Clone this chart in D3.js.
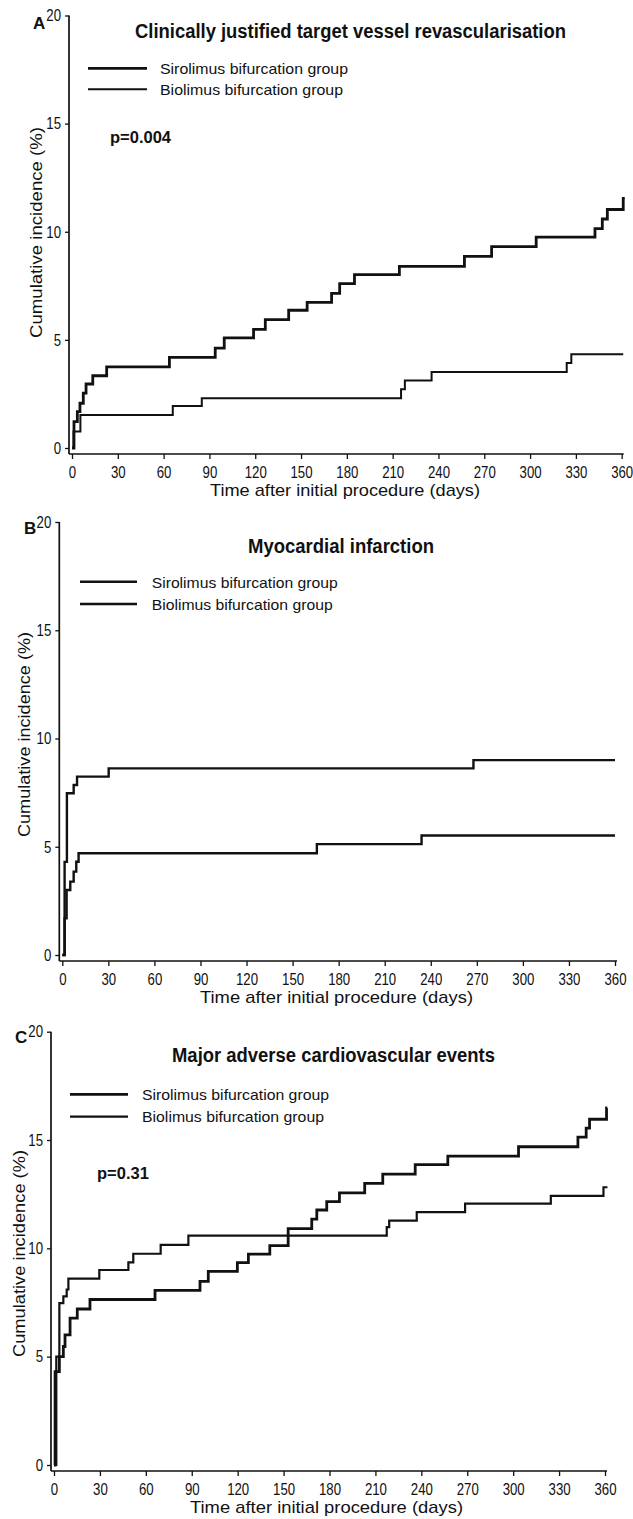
<!DOCTYPE html>
<html><head><meta charset="utf-8">
<script src="https://cdn.jsdelivr.net/npm/d3@7"></script>
<style>body{margin:0;background:#fff} svg{display:block}</style>
</head><body><svg id="chart" width="633" height="1519"></svg>
<script>
// ---------- data ----------
const dayTicks = [0,30,60,90,120,150,180,210,240,270,300,330,360];
const incidenceTicks = [0,5,10,15,20];
const groupNames = ["Sirolimus bifurcation group","Biolimus bifurcation group"];
const panelLetters = ["A","B","C"];
const panelTitles = ["Clinically justified target vessel revascularisation","Myocardial infarction","Major adverse cardiovascular events"];
const pValues = ["p=0.004","","p=0.31"];
const yAxisTitle = "Cumulative incidence (%)";
const xAxisTitle = "Time after initial procedure (days)";

// [day, cumulative incidence %]
const tvrSirolimus = [[0,0],[1.3,1.22],[3.5,1.68],[5.2,2.07],[7.4,2.54],[9.2,2.96],[13.6,3.34],[22.7,3.75],[63.8,4.19],[93.8,4.62],[99.7,5.09],[118.9,5.49],[126.6,5.94],[141.9,6.37],[154,6.73],[170,7.15],[175.3,7.6],[185,8.02],[214.4,8.4],[257,8.86],[274.8,9.31],[304,9.75],[342.5,10.14],[347.3,10.59],[350.6,11.03],[361,11.54],[362,11.54]];
const tvrBiolimus = [[0,0],[1,0.76],[5.5,1.53],[66,1.94],[85,2.3],[215.5,2.72],[218,3.12],[235.5,3.51],[324,3.93],[327,4.33],[361,4.33]];
const miSirolimus = [[0,0],[1.5,1.7],[2.8,3.0],[5.2,3.39],[7.4,3.85],[9.1,4.31],[10.6,4.7],[165.8,5.12],[234,5.52],[360,5.52]];
const miBiolimus = [[0,0],[1.5,4.3],[3,7.47],[7.4,7.85],[9.6,8.24],[30.2,8.62],[267.8,9.0],[360,9.0]];
const maceSirolimus = [[0,0],[0.7,4.31],[3.5,5.0],[6.1,5.47],[7.2,6.01],[10.5,6.78],[15.2,7.2],[23.5,7.64],[66,8.06],[95.4,8.48],[100.8,8.94],[119.8,9.34],[127,9.73],[141,10.13],[153,10.91],[168.4,11.35],[171.7,11.77],[178.2,12.16],[186.5,12.56],[203,13.0],[214.8,13.43],[236,13.86],[257.3,14.26],[303.5,14.69],[342.3,15.13],[347.7,15.55],[349.9,15.96],[361,16.48],[361.5,16.48]];
const maceBiolimus = [[0,0],[1.5,5.0],[3.5,7.47],[6.1,7.78],[8.3,8.1],[9.4,8.6],[29.6,9.0],[48.6,9.35],[51.8,9.75],[69.7,10.16],[87.8,10.59],[217.4,10.98],[219,11.28],[237,11.67],[268.6,12.06],[324.6,12.42],[359,12.82],[361.6,12.82]];

const panelSeries = [[tvrSirolimus,tvrBiolimus],[miSirolimus,miBiolimus],[maceSirolimus,maceBiolimus]];

// ---------- layout ----------
const layout = [
  {x0:72, x1:621.7, y0:448, y20:15.5, letter:[33,28.5], title:[350.5,37.5,431], widths:[2.8,2.0],
   leg:{x0:88,x1:147,ys:[68.3,89.3],tx:160,tb:[74,95],tl:[188,183]}, p:[110,143], yl:[41.5,232.5,211], xl:[345,496,270]},
  {x0:62.3, x1:615, y0:955, y20:522, letter:[24,534], title:[341,553,186], widths:[2.4,2.4],
   leg:{x0:80,x1:137,ys:[581.7,604],tx:151.7,tb:[588,610],tl:[186,181]}, p:null, yl:[29.5,734.5,205], xl:[336.5,1003,273]},
  {x0:54, x1:605, y0:1465, y20:1031.7, letter:[15,1043], title:[333.5,1062,323], widths:[2.8,2.2],
   leg:{x0:70,x1:128,ys:[1094.3,1116.7],tx:142,tb:[1100,1121.7],tl:[187,182]}, p:[97,1179], yl:[24.5,1253.5,207], xl:[326.5,1513,273]}
];
const FONT = "'Liberation Sans Narrow','Liberation Sans',Arial,sans-serif";
const INK = "#111";

const svg = d3.select("#chart");

layout.forEach((L, i) => {
  const x = d3.scaleLinear().domain([0,360]).range([L.x0, L.x1]);
  const y = d3.scaleLinear().domain([0,20]).range([L.y0, L.y20]);
  const g = svg.append("g");
  const axisX = x(0) - 3;
  const axisY = y(0) + 6;

  g.append("line").attr("x1",axisX).attr("x2",axisX).attr("y1",y(20)).attr("y2",axisY)
    .attr("stroke",INK).attr("stroke-width",1.7);
  g.append("line").attr("x1",axisX).attr("x2",x(360)+2).attr("y1",axisY).attr("y2",axisY)
    .attr("stroke",INK).attr("stroke-width",1.7);

  const ya = g.append("g").attr("transform",`translate(${axisX},0)`)
    .call(d3.axisLeft(y).tickValues(incidenceTicks).tickSize(4).tickSizeOuter(0).tickPadding(4));
  ya.select(".domain").remove();
  ya.selectAll(".tick line").attr("stroke",INK).attr("stroke-width",1.3);
  ya.selectAll(".tick text").attr("font-family",FONT).attr("font-size",16.5).attr("fill",INK)
    .attr("x",-10).attr("transform","scale(0.8,1)");

  const xa = g.append("g").attr("transform",`translate(0,${axisY})`)
    .call(d3.axisBottom(x).tickValues(dayTicks).tickSize(5).tickSizeOuter(0).tickPadding(7));
  xa.select(".domain").remove();
  xa.selectAll(".tick line").attr("stroke",INK).attr("stroke-width",1.3);
  xa.selectAll(".tick text").attr("font-family",FONT).attr("font-size",16.5).attr("fill",INK)
    .attr("transform","scale(0.8,1)");

  const line = d3.line().x(d => x(d[0])).y(d => y(d[1])).curve(d3.curveStepAfter);
  panelSeries[i].forEach((s, k) => {
    g.append("path").datum(s).attr("d", line).attr("fill","none")
      .attr("stroke",INK).attr("stroke-width",L.widths[k]).attr("stroke-linejoin","miter");
  });

  g.append("text").attr("x",L.letter[0]).attr("y",L.letter[1]).text(panelLetters[i])
    .attr("font-family",FONT).attr("font-weight","bold").attr("font-size",17).attr("fill",INK);

  g.append("text").attr("x",L.title[0]).attr("y",L.title[1]).attr("text-anchor","middle")
    .attr("textLength",L.title[2]).attr("lengthAdjust","spacingAndGlyphs")
    .text(panelTitles[i]).attr("font-family",FONT).attr("font-weight","bold").attr("font-size",20).attr("fill",INK);

  groupNames.forEach((name, k) => {
    g.append("line").attr("x1",L.leg.x0).attr("x2",L.leg.x1).attr("y1",L.leg.ys[k]).attr("y2",L.leg.ys[k])
      .attr("stroke",INK).attr("stroke-width",L.widths[k]);
    g.append("text").attr("x",L.leg.tx).attr("y",L.leg.tb[k]).text(name)
      .attr("textLength",L.leg.tl[k]).attr("lengthAdjust","spacingAndGlyphs")
      .attr("font-family",FONT).attr("font-size",15).attr("fill",INK);
  });

  if (L.p && pValues[i]) {
    g.append("text").attr("x",L.p[0]).attr("y",L.p[1]).text(pValues[i])
      .attr("font-family",FONT).attr("font-weight","bold").attr("font-size",16.5).attr("fill",INK);
  }

  g.append("text").attr("transform",`translate(${L.yl[0]},${L.yl[1]}) rotate(-90)`)
    .attr("text-anchor","middle").attr("textLength",L.yl[2]).attr("lengthAdjust","spacingAndGlyphs")
    .text(yAxisTitle).attr("font-family","'Liberation Sans',Arial,sans-serif").attr("font-size",17).attr("fill",INK);

  g.append("text").attr("x",L.xl[0]).attr("y",L.xl[1]).attr("text-anchor","middle")
    .attr("textLength",L.xl[2]).attr("lengthAdjust","spacingAndGlyphs")
    .text(xAxisTitle).attr("font-family","'Liberation Sans',Arial,sans-serif").attr("font-size",17).attr("fill",INK);
});
</script>
</body></html>
